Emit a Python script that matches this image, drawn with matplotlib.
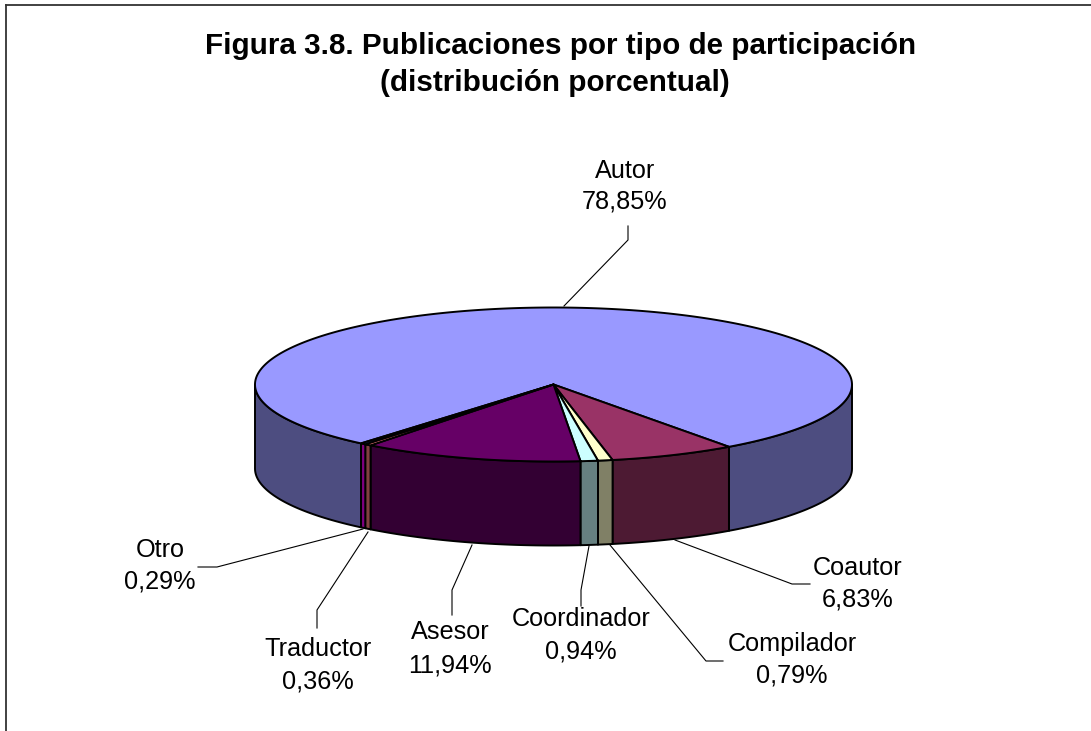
import matplotlib
matplotlib.use('Agg')
import matplotlib.pyplot as plt
import numpy as np

plt.rcParams['font.family'] = ['Liberation Sans', 'DejaVu Sans']

labels = ['Autor', 'Coautor', 'Compilador', 'Coordinador', 'Asesor', 'Traductor', 'Otro']
values = [78.85, 6.83, 0.79, 0.94, 11.94, 0.36, 0.29]
value_text = ['78,85%', '6,83%', '0,79%', '0,94%', '11,94%', '0,36%', '0,29%']
top_colors = ['#9999FF', '#993366', '#FFFFCC', '#CCFFFF', '#660066', '#FF8080', '#0066CC']
side_colors = ['#4D4D80', '#4D1A33', '#808066', '#668080', '#330033', '#804040', '#800080']

# label centre x, y of first line, y of second line, in picture pixels
label_pos = [(625, 171, 202), (858, 568, 599), (792, 644, 675), (581, 619, 651),
             (450, 632, 665), (318, 649, 682), (160, 550, 582)]
leaders = [
    [(628, 226), (628, 240), (564, 306)],
    [(675, 540), (792, 584), (810, 584)],
    [(610, 545), (706, 661), (723, 661)],
    [(589, 546), (581, 590), (581, 606)],
    [(472, 545), (452, 590), (452, 615)],
    [(368, 532), (317, 610), (317, 628)],
    [(363, 529), (217, 567), (198, 567)],
]

cx, cy = 553.5, 384.5
a, b = 298.5, 77.0
depth = 84.0
start = -54.0  # end of Autor, angle on the ellipse, going clockwise

fig = plt.figure(figsize=(10.91, 7.31), dpi=100)
ax = fig.add_axes([0, 0, 1, 1])
ax.set_xlim(0, 1091)
ax.set_ylim(731, 0)
ax.axis('off')

# frame only shows on the left and top
ax.plot([5.5, 5.5], [731, 4.5], color='#333333', lw=1.3)
ax.plot([5.5, 1091], [4.5, 4.5], color='#333333', lw=1.3)


def ell(t, dy=0.0):
    r = np.radians(t)
    return cx + a * np.cos(r), cy - b * np.sin(r) + dy


# slice angle ranges, clockwise, Coautor first and Autor last
order = [1, 2, 3, 4, 5, 6, 0]
ang = {}
t = start
for i in order:
    sweep = values[i] * 3.6
    ang[i] = (t, t - sweep)
    t -= sweep
# Autor closes the circle, rounded values leave a small gap
ang[0] = (ang[6][1], start - 360)

# sides, only the front half is seen (angles -180 to 0)
for i in range(len(labels)):
    t1, t2 = ang[i]
    spans = [(t1, t2)]
    if i == 0:
        spans = [(0, start), (ang[6][1], -180)]
    for s1, s2 in spans:
        tt = np.linspace(s1, s2, 80)
        x, y = ell(tt)
        xs = np.concatenate([x, x[::-1]])
        ys = np.concatenate([y, (y + depth)[::-1]])
        ax.fill(xs, ys, facecolor=side_colors[i], edgecolor='black', lw=1.4, joinstyle='round', zorder=2)

# tops
for i in range(len(labels)):
    t1, t2 = ang[i]
    tt = np.linspace(t1, t2, 300 if i == 0 else 60)
    x, y = ell(tt)
    xs = np.concatenate([[cx], x])
    ys = np.concatenate([[cy], y])
    ax.fill(xs, ys, facecolor=top_colors[i], edgecolor='black', lw=1.4, joinstyle='round', zorder=3)

for pts in leaders:
    ax.plot([p[0] for p in pts], [p[1] for p in pts], color='black', lw=0.8, zorder=4)

for i in range(len(labels)):
    ax.text(label_pos[i][0], label_pos[i][1], labels[i], ha='center', va='center', fontsize=18.2, color='black', zorder=5)
    ax.text(label_pos[i][0], label_pos[i][2], value_text[i], ha='center', va='center', fontsize=18.2, color='black', zorder=5)

ax.text(561, 46.5, 'Figura 3.8. Publicaciones por tipo de participación', ha='center', va='center',
        fontsize=21.3, fontweight='bold', color='black')
ax.text(555, 83, '(distribución porcentual)', ha='center', va='center',
        fontsize=21.3, fontweight='bold', color='black')

fig.savefig('out.png', dpi=100, facecolor='white')
